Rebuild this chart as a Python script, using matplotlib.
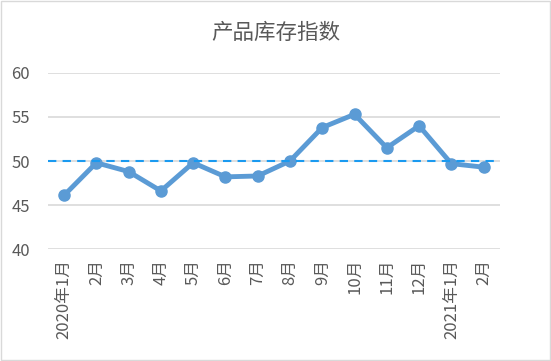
import numpy as np
import matplotlib.pyplot as plt
from matplotlib.patches import Rectangle

plt.rcParams['font.family'] = ['Noto Sans CJK SC', 'DejaVu Sans']

months = ["2020年1月", "2月", "3月", "4月", "5月", "6月", "7月", "8月",
          "9月", "10月", "11月", "12月", "2021年1月", "2月"]
index_vals = [46.1, 49.8, 48.8, 46.6, 49.8, 48.2, 48.3, 50.0,
              53.8, 55.3, 51.5, 54.0, 49.7, 49.3]
threshold = 50

fig = plt.figure(figsize=(5.51, 3.61), dpi=100)
ax = fig.add_axes([0.087, 0.310, 0.820, 0.488])

x = np.arange(len(months))
ax.plot(x, index_vals, color='#5b9bd5', lw=3.5, marker='o', ms=8,
        solid_joinstyle='round', zorder=3)
ax.plot([-0.5, len(months) - 0.6], [threshold, threshold], color='#1a9af0',
        lw=1.5, ls=(0, (4, 3)), zorder=4)

ax.set_xlim(-0.5, len(months) - 0.5)
ax.set_ylim(40, 60)
ax.set_yticks([40, 45, 50, 55, 60])
ax.yaxis.grid(True, color='#d9d9d9', lw=1.2)
ax.set_axisbelow(True)
for s in ax.spines.values():
    s.set_visible(False)
ax.set_xticks(x)
ax.set_xticklabels(months, rotation=90, va='top', ha='center')
ax.tick_params(axis='both', length=0, colors='#595959', labelsize=12)
ax.tick_params(axis='x', pad=7)
ax.tick_params(axis='y', pad=13)

fig.text(0.5, 0.91, "产品库存指数", ha='center', va='center',
         fontsize=15.5, color='#595959')

fig.patches.append(Rectangle((0.002, 0.003), 0.996, 0.994, transform=fig.transFigure,
                             fill=False, edgecolor='#d9d9d9', lw=1))

fig.savefig("out.png", dpi=100)
